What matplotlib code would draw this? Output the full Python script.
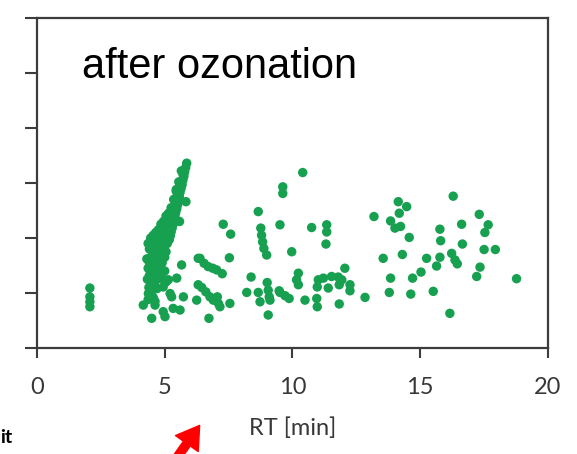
import matplotlib.pyplot as plt

# retention time [min] and signal (arbitrary units) of the detected peaks
rt_early = [2.07, 2.07, 2.07, 2.07]
int_early = [1.09, 0.93, 0.84, 0.75]

# the dense band of early eluting peaks around 4-6 min
rt_band = [5.86, 5.82, 5.78, 5.75, 5.71, 5.68, 5.64, 5.60, 5.57, 5.53,
           5.50, 5.47, 5.43, 5.40, 5.36, 5.33, 5.29, 5.25, 5.22, 5.18,
           5.72, 5.60, 5.50, 5.40, 5.30, 5.20, 5.83, 5.58,
           4.95, 5.05, 4.85, 5.00, 4.75, 4.90, 5.10, 4.65, 4.80, 4.95,
           5.05, 4.55, 4.70, 4.85, 5.00, 4.45, 4.60, 4.75, 4.90, 4.40,
           4.55, 4.70, 4.85, 4.45, 4.60, 4.75, 4.40, 4.55, 4.70, 4.85,
           4.45, 4.60, 4.38, 4.52, 4.70, 4.40, 4.55, 4.35, 4.62, 5.00,
           5.05, 4.95,
           5.45, 5.35, 5.25, 5.15, 5.05, 4.95, 5.20, 5.10, 4.85, 4.75,
           4.65, 4.55, 4.45, 4.35, 4.40, 4.50, 4.60, 4.70, 4.80, 4.90,
           5.00, 4.30, 4.35, 4.32, 5.55, 5.45, 5.65]
int_band = [3.36, 3.28, 3.20, 3.12, 3.05, 2.97, 2.90, 2.83, 2.75, 2.68,
            2.60, 2.53, 2.46, 2.39, 2.32, 2.25, 2.18, 2.11, 2.04, 1.97,
            3.15, 2.95, 2.78, 2.58, 2.42, 2.28, 2.66, 2.30,
            2.10, 2.05, 2.00, 1.95, 1.92, 1.88, 1.90, 1.85, 1.80, 1.78,
            1.75, 1.75, 1.70, 1.68, 1.65, 1.65, 1.60, 1.58, 1.55, 1.55,
            1.50, 1.48, 1.45, 1.42, 1.38, 1.35, 1.32, 1.28, 1.25, 1.30,
            1.20, 1.15, 1.10, 1.05, 1.08, 0.98, 0.92, 0.88, 0.85, 1.40,
            1.20, 1.25,
            2.85, 2.70, 2.55, 2.45, 2.40, 2.30, 2.20, 2.15, 2.25, 2.15,
            2.10, 2.05, 2.00, 1.90, 1.80, 1.90, 1.95, 2.05, 2.12, 2.18,
            2.25, 1.62, 1.45, 1.25, 3.02, 2.88, 3.22]

rt_rest = [5.66, 6.31, 5.47, 5.14, 4.94, 5.21, 5.27, 5.73, 4.36, 4.16,
           4.62, 4.94, 5.01, 5.33, 5.60, 4.49, 6.31, 6.25,
           8.66, 7.29, 7.58, 8.76, 8.79, 8.83, 8.88, 8.99, 7.53, 6.38,
           6.54, 6.70, 6.88, 7.03, 7.25, 8.38, 6.45, 6.61, 6.77, 6.90,
           7.06, 7.10, 7.16, 7.55, 8.21, 8.66, 8.73, 9.01, 9.05, 9.09,
           9.12, 9.48, 6.73, 9.05,
           10.40, 9.62, 9.62, 9.51, 10.75, 11.34, 11.34, 11.31, 9.97, 12.05,
           10.23, 10.16, 10.23, 11.01, 11.21, 11.53, 11.79, 11.93, 10.97, 11.40,
           11.83, 12.25, 12.25, 9.51, 9.71, 9.87, 10.49, 10.95, 10.97, 11.83,
           12.84,
           16.29, 14.14, 14.47, 13.19, 14.18, 13.84, 14.01, 14.23, 17.31, 16.62,
           17.66, 17.53, 16.16, 15.77, 15.80, 14.57, 16.65, 17.50, 17.94, 13.55,
           14.30, 15.25, 15.77, 16.23, 16.36, 16.45, 15.64, 17.34, 17.21, 15.03,
           14.70, 13.84, 18.77, 13.79, 14.63, 15.51]
int_rest = [1.51, 1.63, 1.27, 1.24, 1.11, 0.99, 0.93, 0.93, 0.99, 0.78,
            0.78, 0.66, 0.57, 0.72, 0.69, 0.54, 1.15, 0.87,
            2.48, 2.25, 2.07, 2.18, 2.05, 1.93, 1.81, 1.69, 1.64, 1.63,
            1.54, 1.48, 1.45, 1.42, 1.35, 1.29, 1.10, 1.02, 0.93, 0.87,
            0.93, 0.81, 0.75, 0.81, 1.01, 1.01, 0.84, 1.19, 1.05, 0.93,
            0.87, 1.04, 0.54, 0.60,
            3.19, 2.93, 2.81, 2.24, 2.19, 2.24, 2.11, 1.89, 1.75, 1.45,
            1.36, 1.24, 1.15, 1.24, 1.27, 1.30, 1.29, 1.24, 1.11, 1.09,
            1.15, 1.15, 1.04, 1.01, 0.95, 0.90, 0.87, 0.90, 0.75, 0.80,
            0.92,
            2.76, 2.66, 2.57, 2.39, 2.45, 2.31, 2.18, 2.21, 2.43, 2.25,
            2.24, 2.10, 0.63, 2.16, 1.95, 2.01, 1.89, 1.79, 1.79, 1.63,
            1.70, 1.63, 1.65, 1.72, 1.60, 1.53, 1.49, 1.47, 1.30, 1.38,
            1.27, 1.27, 1.26, 1.01, 0.98, 1.03]

x_ticks = [0, 5, 10, 15, 20]

green = '#16a04f'
axis_grey = '#3c3c3c'
label_grey = '#383838'

fig = plt.figure(figsize=(5.77, 4.54), dpi=100)
ax = fig.add_axes([0.0641, 0.2335, 0.8856, 0.7269])

for xs, ys in [(rt_early, int_early), (rt_band, int_band), (rt_rest, int_rest)]:
    ax.scatter(xs, ys, s=46, color=green, edgecolors='none', zorder=3)

ax.set_xlim(0, 20)
ax.set_ylim(0, 6)
ax.set_xticks(x_ticks)
ax.set_xticklabels([str(t) for t in x_ticks], fontfamily='Lato',
                   fontsize=17, color=label_grey)
ax.set_yticks(range(7))
ax.set_yticklabels([])
ax.tick_params(axis='x', direction='out', length=7, width=1.5,
               color=axis_grey, pad=14)
ax.tick_params(axis='y', direction='out', length=9, width=1.5,
               color=axis_grey)
for side in ax.spines.values():
    side.set_color(axis_grey)
    side.set_linewidth(1.6)

ax.set_xlabel('RT [min]', fontfamily='Lato', fontsize=17, color=label_grey,
              labelpad=14)

ax.text(0.088, 0.818, 'after ozonation', transform=ax.transAxes,
        fontfamily='Liberation Sans', fontsize=30, va='baseline')

# bits of the neighbouring panel
fig.text(0.0, 0.037, 'it', ha='left', va='center', fontfamily='Lato',
         fontsize=14, fontweight='bold')
ax.annotate('', xy=(0.346, 0.063), xytext=(0.300, -0.02),
            xycoords='figure fraction', textcoords='figure fraction',
            arrowprops=dict(facecolor='red', edgecolor='red', width=6,
                            headwidth=20, headlength=16))

fig.savefig('out.png', dpi=100)
